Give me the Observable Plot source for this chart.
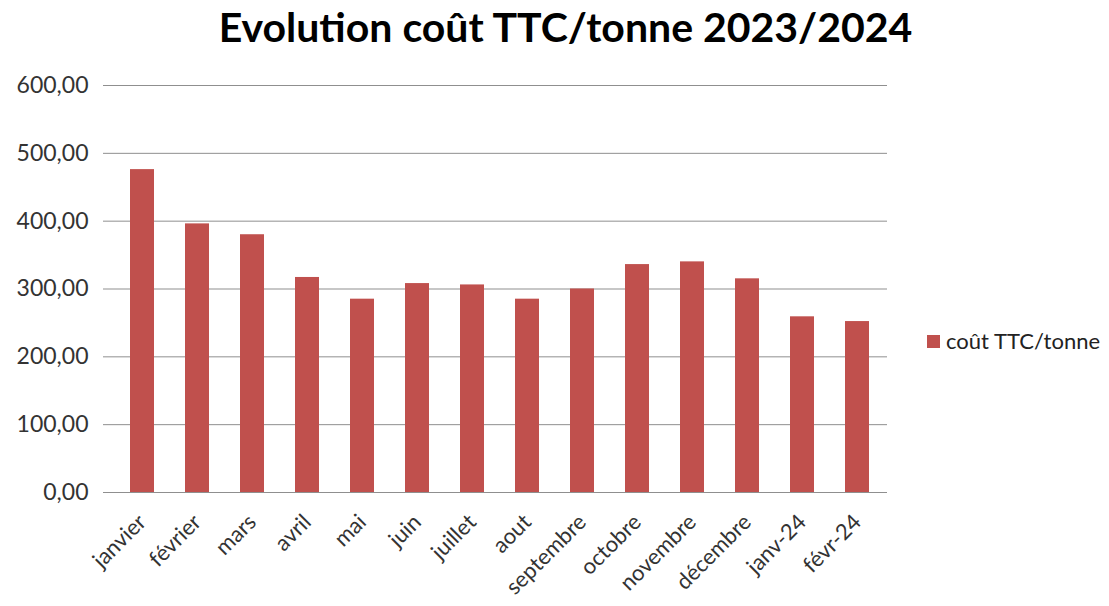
<!DOCTYPE html>
<html>
<head>
<meta charset="utf-8">
<script src="https://cdn.jsdelivr.net/npm/d3@7"></script>
<script src="https://cdn.jsdelivr.net/npm/@observablehq/plot@0.6"></script>
<style>
  html, body { margin: 0; padding: 0; background: #fff; }
  #wrap { position: relative; width: 1109px; height: 606px; font-family: Lato, "Open Sans", sans-serif; }
  #title { position: absolute; left: 11px; top: 2px; width: 1109px; text-align: center; font-weight: bold; font-size: 41px; color: #000; line-height: 50px; }
  #chart { position: absolute; left: 0; top: 60px; }
  #legend { position: absolute; left: 927px; top: 328px; font-size: 22px; color: #222; display: flex; align-items: center; white-space: nowrap; line-height: 26px; }
  #legend .sw { width: 13px; height: 13px; background: #C0504D; margin-right: 6px; }
</style>
</head>
<body>
<div id="wrap">
  <div id="title">Evolution coût TTC/tonne 2023/2024</div>
  <div id="chart"></div>
  <div id="legend"><span class="sw"></span><span>coût TTC/tonne</span></div>
</div>
<script>
const months = ["janvier", "février", "mars", "avril", "mai", "juin", "juillet", "aout", "septembre", "octobre", "novembre", "décembre", "janv-24", "févr-24"];
const costs = [476, 396, 380, 317, 285, 308, 306, 285, 300, 336, 340, 315, 259, 252];
const yTicks = [0, 100, 200, 300, 400, 500, 600];
const seriesName = "coût TTC/tonne";

const data = months.map((m, i) => ({month: m, value: costs[i]}));
const fmt = d => d.toFixed(2).replace(".", ",");
const gray = "#8f8f8f";

// Excel-style category boundary ticks below the x axis
function boundaryTicks(index, scales, values, dims) {
  const g = d3.create("svg:g");
  const W = dims.width - dims.marginLeft - dims.marginRight;
  const y0 = scales.y(0);
  for (let k = 0; k <= months.length; k++) {
    const px = dims.marginLeft + k * W / months.length;
    g.append("line").attr("x1", px).attr("x2", px).attr("y1", y0).attr("y2", y0 + 8)
      .attr("stroke", gray).attr("stroke-width", 1);
  }
  return g.node();
}

function leftAxisLine(index, scales, values, dims) {
  const g = d3.create("svg:g");
  g.append("line").attr("x1", dims.marginLeft + 0.5).attr("x2", dims.marginLeft + 0.5)
    .attr("y1", scales.y(0)).attr("y2", scales.y(600)).attr("stroke", gray);
  return g.node();
}

const chart = Plot.plot({
  width: 1109,
  height: 546,
  marginTop: 25,
  marginBottom: 114,
  marginLeft: 111,
  marginRight: 222,
  style: {fontFamily: "Lato, 'Open Sans', sans-serif", color: "#333", background: "#fff"},
  x: {domain: months, paddingInner: 0.565, paddingOuter: 0.2825, label: null},
  y: {domain: [0, 600], label: null},
  marks: [
    Plot.gridY(yTicks, {stroke: gray, strokeOpacity: 1, strokeWidth: 1}),
    Plot.barY(data, {x: "month", y: "value", fill: "#C0504D"}),
    Plot.ruleY([0], {stroke: gray, strokeWidth: 1}),
    Plot.ruleX([0], {render: leftAxisLine}),
    Plot.axisY(yTicks, {tickFormat: fmt, tickSize: 8, tickPadding: 15, fontSize: 23, stroke: gray, fill: "#333"}),
    Plot.axisX({tickSize: 0, tickRotate: -45, tickPadding: 26, dx: 0, fontSize: 22, fill: "#333", textAnchor: "end"}),
    Plot.ruleX([0], {render: boundaryTicks})
  ]
});
document.getElementById("chart").appendChild(chart);
</script>
</body>
</html>
